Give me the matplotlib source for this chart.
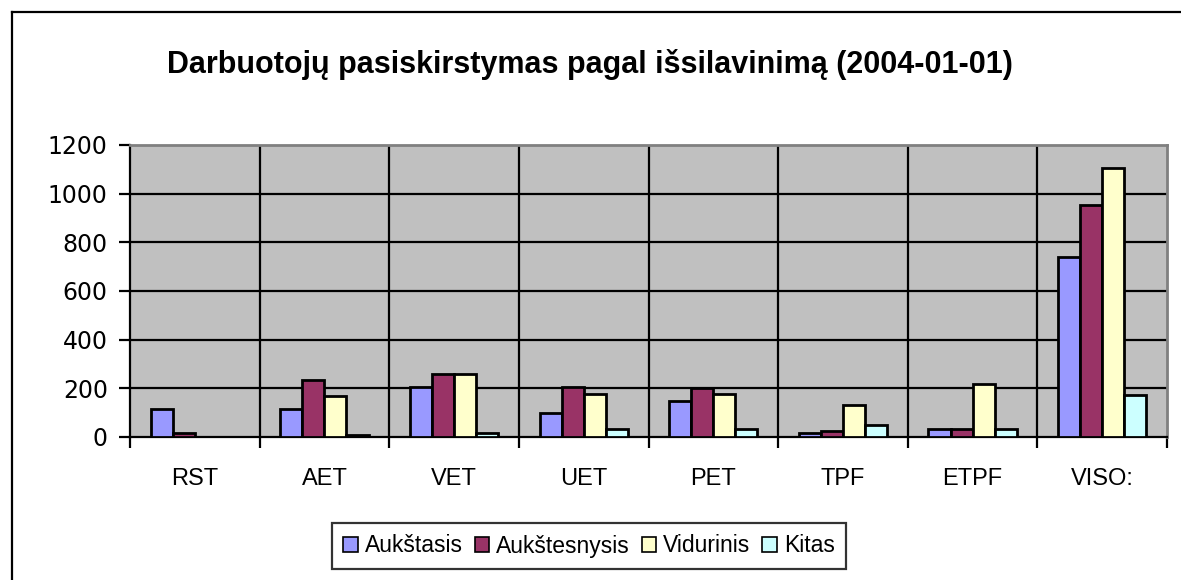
import numpy as np
import matplotlib.pyplot as plt
from matplotlib.lines import Line2D

plt.rcParams['font.family'] = ['Liberation Sans', 'DejaVu Sans']

#%% Data
categories = ['RST', 'AET', 'VET', 'UET', 'PET', 'TPF', 'ETPF', 'VISO:']
series_names = ['Aukštasis', 'Aukštesnysis', 'Vidurinis', 'Kitas']
aukstasis = [117, 117, 207, 100, 150, 17, 33, 738]
aukstesnysis = [15, 233, 257, 207, 200, 25, 33, 952]
vidurinis = [0, 167, 257, 175, 175, 133, 217, 1104]
kitas = [0, 8, 17, 33, 33, 50, 33, 173]
colors = ['#9999FF', '#993366', '#FFFFCC', '#CCFFFF']
title = 'Darbuotojų pasiskirstymas pagal išsilavinimą (2004-01-01)'

#%% Plot
fig = plt.figure(figsize=(11.81, 5.80), dpi=100)
ax = fig.add_axes([130/1181, 1-437/580, 1037/1181, 292/580])
ax.set_facecolor('#C0C0C0')

x = np.arange(len(categories))
w = 0.17
all_series = [aukstasis, aukstesnysis, vidurinis, kitas]
for i, vals in enumerate(all_series):
    ax.bar(x + (i - 1.5) * w, vals, width=w, color=colors[i],
           edgecolor='black', linewidth=2.0, zorder=3, label=series_names[i])

ax.set_xlim(-0.5, len(categories) - 0.5)
ax.set_ylim(0, 1200)
ax.set_yticks(np.arange(0, 1201, 200))
ax.set_yticklabels([str(v) for v in range(0, 1201, 200)], fontsize=17,
                   family='DejaVu Sans')

# category boundaries as vertical gridlines
bounds = np.arange(-0.5, len(categories), 1)
for b in bounds[1:-1]:
    ax.axvline(b, color='black', linewidth=1.6, zorder=2)
for v in range(200, 1200, 200):
    ax.axhline(v, color='black', linewidth=1.6, zorder=2)

ax.set_xticks(bounds)
ax.set_xticklabels([''] * len(bounds))
ax.set_xticks(x, minor=True)
ax.set_xticklabels(categories, minor=True, fontsize=17)
ax.tick_params(axis='x', which='minor', length=0, pad=22)
ax.tick_params(axis='x', which='major', length=8, width=1.6, direction='out')
ax.tick_params(axis='y', length=8, width=1.6, direction='out', pad=8)

ax.spines['left'].set_linewidth(1.6)
ax.spines['bottom'].set_linewidth(1.6)
ax.spines['top'].set_color('#808080')
ax.spines['right'].set_color('#808080')
ax.spines['top'].set_linewidth(2)
ax.spines['right'].set_linewidth(2)

fig.text(590/1181, 1-65/580, title, ha='center', va='center',
         fontsize=22, fontweight='bold')

leg = fig.legend(loc='center', bbox_to_anchor=(589/1181, 1-546/580), ncol=4,
                 fontsize=16.5, frameon=True, fancybox=False, edgecolor='black',
                 handlelength=0.65, handleheight=0.65, handletextpad=0.3,
                 columnspacing=0.5, borderpad=0.5, borderaxespad=0)
leg.get_frame().set_linewidth(1.6)
for h in leg.legend_handles:
    h.set_linewidth(1.2)

# outer chart frame (left and top edges visible)
fig.add_artist(Line2D([12/1181, 12/1181], [0, 1-12/580], color='black', lw=1.6))
fig.add_artist(Line2D([12/1181, 1], [1-12/580, 1-12/580], color='black', lw=1.6))

plt.savefig('out.png', dpi=100)
